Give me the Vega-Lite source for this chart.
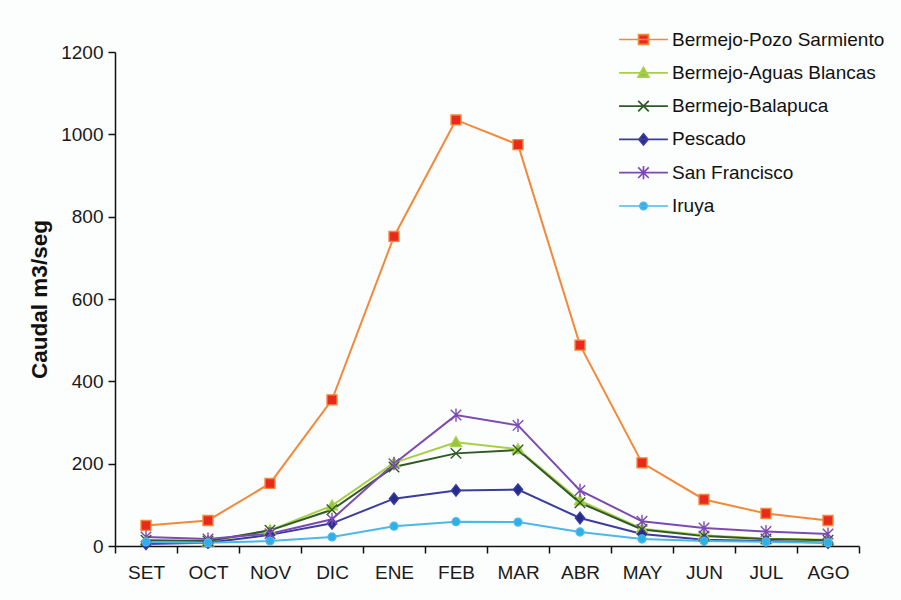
{
  "$schema": "https://vega.github.io/schema/vega-lite/v6.json",
  "width": 744,
  "height": 494,
  "autosize": {"type": "none"},
  "padding": {"left": 115, "top": 52, "right": 42, "bottom": 54},
  "background": "#FCFDFD",
  "config": {
    "view": {"stroke": null},
    "font": "Liberation Sans",
    "axis": {
      "grid": false,
      "domainColor": "#111111",
      "tickColor": "#111111",
      "domainWidth": 1.5,
      "tickWidth": 1.5,
      "labelColor": "#1a1a1a",
      "labelFont": "Liberation Sans",
      "titleFont": "Liberation Sans",
      "titleColor": "#111111"
    },
    "legend": {
      "orient": "none",
      "legendX": 511,
      "legendY": -30,
      "padding": 0,
      "symbolSize": 1089,
      "symbolStrokeWidth": 1.5,
      "labelOffset": 11,
      "labelFontSize": 19,
      "labelFont": "Liberation Sans",
      "labelColor": "#111111",
      "labelLimit": 300,
      "rowPadding": 5.3
    }
  },
  "data": {
    "values": [
      {"mes": "SET", "serie": "Bermejo-Pozo Sarmiento", "caudal": 50},
      {"mes": "OCT", "serie": "Bermejo-Pozo Sarmiento", "caudal": 62},
      {"mes": "NOV", "serie": "Bermejo-Pozo Sarmiento", "caudal": 152},
      {"mes": "DIC", "serie": "Bermejo-Pozo Sarmiento", "caudal": 355},
      {"mes": "ENE", "serie": "Bermejo-Pozo Sarmiento", "caudal": 752},
      {"mes": "FEB", "serie": "Bermejo-Pozo Sarmiento", "caudal": 1035},
      {"mes": "MAR", "serie": "Bermejo-Pozo Sarmiento", "caudal": 975},
      {"mes": "ABR", "serie": "Bermejo-Pozo Sarmiento", "caudal": 488},
      {"mes": "MAY", "serie": "Bermejo-Pozo Sarmiento", "caudal": 202},
      {"mes": "JUN", "serie": "Bermejo-Pozo Sarmiento", "caudal": 113},
      {"mes": "JUL", "serie": "Bermejo-Pozo Sarmiento", "caudal": 79},
      {"mes": "AGO", "serie": "Bermejo-Pozo Sarmiento", "caudal": 62},
      {"mes": "SET", "serie": "Bermejo-Aguas Blancas", "caudal": 12},
      {"mes": "OCT", "serie": "Bermejo-Aguas Blancas", "caudal": 10},
      {"mes": "NOV", "serie": "Bermejo-Aguas Blancas", "caudal": 38},
      {"mes": "DIC", "serie": "Bermejo-Aguas Blancas", "caudal": 98},
      {"mes": "ENE", "serie": "Bermejo-Aguas Blancas", "caudal": 202},
      {"mes": "FEB", "serie": "Bermejo-Aguas Blancas", "caudal": 252},
      {"mes": "MAR", "serie": "Bermejo-Aguas Blancas", "caudal": 235},
      {"mes": "ABR", "serie": "Bermejo-Aguas Blancas", "caudal": 110},
      {"mes": "MAY", "serie": "Bermejo-Aguas Blancas", "caudal": 42},
      {"mes": "JUN", "serie": "Bermejo-Aguas Blancas", "caudal": 26},
      {"mes": "JUL", "serie": "Bermejo-Aguas Blancas", "caudal": 18},
      {"mes": "AGO", "serie": "Bermejo-Aguas Blancas", "caudal": 15},
      {"mes": "SET", "serie": "Bermejo-Balapuca", "caudal": 14},
      {"mes": "OCT", "serie": "Bermejo-Balapuca", "caudal": 12},
      {"mes": "NOV", "serie": "Bermejo-Balapuca", "caudal": 38},
      {"mes": "DIC", "serie": "Bermejo-Balapuca", "caudal": 88},
      {"mes": "ENE", "serie": "Bermejo-Balapuca", "caudal": 192},
      {"mes": "FEB", "serie": "Bermejo-Balapuca", "caudal": 225},
      {"mes": "MAR", "serie": "Bermejo-Balapuca", "caudal": 233},
      {"mes": "ABR", "serie": "Bermejo-Balapuca", "caudal": 105},
      {"mes": "MAY", "serie": "Bermejo-Balapuca", "caudal": 40},
      {"mes": "JUN", "serie": "Bermejo-Balapuca", "caudal": 24},
      {"mes": "JUL", "serie": "Bermejo-Balapuca", "caudal": 17},
      {"mes": "AGO", "serie": "Bermejo-Balapuca", "caudal": 14},
      {"mes": "SET", "serie": "Pescado", "caudal": 5},
      {"mes": "OCT", "serie": "Pescado", "caudal": 8},
      {"mes": "NOV", "serie": "Pescado", "caudal": 27},
      {"mes": "DIC", "serie": "Pescado", "caudal": 55},
      {"mes": "ENE", "serie": "Pescado", "caudal": 115},
      {"mes": "FEB", "serie": "Pescado", "caudal": 135},
      {"mes": "MAR", "serie": "Pescado", "caudal": 137},
      {"mes": "ABR", "serie": "Pescado", "caudal": 68},
      {"mes": "MAY", "serie": "Pescado", "caudal": 29},
      {"mes": "JUN", "serie": "Pescado", "caudal": 15},
      {"mes": "JUL", "serie": "Pescado", "caudal": 12},
      {"mes": "AGO", "serie": "Pescado", "caudal": 8},
      {"mes": "SET", "serie": "San Francisco", "caudal": 22},
      {"mes": "OCT", "serie": "San Francisco", "caudal": 17},
      {"mes": "NOV", "serie": "San Francisco", "caudal": 30},
      {"mes": "DIC", "serie": "San Francisco", "caudal": 65},
      {"mes": "ENE", "serie": "San Francisco", "caudal": 200},
      {"mes": "FEB", "serie": "San Francisco", "caudal": 318},
      {"mes": "MAR", "serie": "San Francisco", "caudal": 293},
      {"mes": "ABR", "serie": "San Francisco", "caudal": 135},
      {"mes": "MAY", "serie": "San Francisco", "caudal": 60},
      {"mes": "JUN", "serie": "San Francisco", "caudal": 44},
      {"mes": "JUL", "serie": "San Francisco", "caudal": 35},
      {"mes": "AGO", "serie": "San Francisco", "caudal": 29},
      {"mes": "SET", "serie": "Iruya", "caudal": 10},
      {"mes": "OCT", "serie": "Iruya", "caudal": 8},
      {"mes": "NOV", "serie": "Iruya", "caudal": 12},
      {"mes": "DIC", "serie": "Iruya", "caudal": 22},
      {"mes": "ENE", "serie": "Iruya", "caudal": 48},
      {"mes": "FEB", "serie": "Iruya", "caudal": 59},
      {"mes": "MAR", "serie": "Iruya", "caudal": 58},
      {"mes": "ABR", "serie": "Iruya", "caudal": 34},
      {"mes": "MAY", "serie": "Iruya", "caudal": 17},
      {"mes": "JUN", "serie": "Iruya", "caudal": 12},
      {"mes": "JUL", "serie": "Iruya", "caudal": 10},
      {"mes": "AGO", "serie": "Iruya", "caudal": 8}
    ]
  },
  "encoding": {
    "x": {
      "field": "mes",
      "type": "ordinal",
      "sort": ["SET", "OCT", "NOV", "DIC", "ENE", "FEB", "MAR", "ABR", "MAY", "JUN", "JUL", "AGO"],
      "scale": {"type": "band", "paddingInner": 0, "paddingOuter": 0},
      "axis": {
        "title": null,
        "labelAngle": 0,
        "tickBand": "extent",
        "tickSize": 7,
        "labelPadding": 10,
        "labelFontSize": 19
      }
    },
    "y": {
      "field": "caudal",
      "type": "quantitative",
      "scale": {"domain": [0, 1200], "nice": false, "zero": true},
      "axis": {
        "title": "Caudal m3/seg",
        "titleFontSize": 22.5,
        "titleFontWeight": "bold",
        "titlePadding": 9,
        "format": "d",
        "values": [0, 200, 400, 600, 800, 1000, 1200],
        "tickSize": 7,
        "labelPadding": 5,
        "labelFontSize": 19
      }
    }
  },
  "layer": [
    {
      "mark": {"type": "line", "strokeWidth": 2},
      "encoding": {
        "stroke": {
          "field": "serie",
          "type": "nominal",
          "scale": {
            "domain": ["Bermejo-Pozo Sarmiento", "Bermejo-Aguas Blancas", "Bermejo-Balapuca", "Pescado", "San Francisco", "Iruya"],
            "range": ["#F4883A", "#A9CF46", "#2F5A27", "#3C3CA0", "#7D4AB2", "#4CB8E6"]
          },
          "legend": {
            "title": null,
            "encode": {
              "symbols": {
                "update": {
                  "shape": {"signal": "datum.value === 'Bermejo-Pozo Sarmiento' ? 'M-1.48,0H1.48M-0.3,-0.3H0.3V0.3H-0.3Z' : datum.value === 'Bermejo-Aguas Blancas' ? 'M-1.48,0H1.48M0,-0.33L0.33,0.26H-0.33Z' : datum.value === 'Bermejo-Balapuca' ? 'M-1.48,0H1.48M-0.32,-0.32L0.32,0.32M-0.32,0.32L0.32,-0.32' : datum.value === 'Pescado' ? 'M-1.48,0H1.48M0,-0.34L0.28,0L0,0.34L-0.28,0Z' : datum.value === 'San Francisco' ? 'M-1.48,0H1.48M-0.32,-0.32L0.32,0.32M-0.32,0.32L0.32,-0.32M0,-0.4V0.4' : 'M-1.48,0H1.48M-0.22,0A0.22,0.22,0,1,0,0.22,0A0.22,0.22,0,1,0,-0.22,0Z'"},
                  "opacity": {"value": 1},
                  "strokeWidth": {"value": 1.7}
                }
              }
            }
          }
        }
      }
    },
    {
      "mark": {"type": "point", "filled": true, "opacity": 1, "size": 110, "strokeWidth": 1.4},
      "encoding": {
        "stroke": {
          "field": "serie",
          "type": "nominal"
        },
        "fill": {
          "field": "serie",
          "type": "nominal",
          "scale": {
            "domain": ["Bermejo-Pozo Sarmiento", "Bermejo-Aguas Blancas", "Bermejo-Balapuca", "Pescado", "San Francisco", "Iruya"],
            "range": ["#E8291C", "#92C83E", "#2F5A27", "#232B8C", "#7D4AB2", "#2BB0E8"]
          }
        },
        "shape": {
          "field": "serie",
          "type": "nominal",
          "scale": {
            "domain": ["Iruya", "Bermejo-Pozo Sarmiento", "Bermejo-Aguas Blancas", "Bermejo-Balapuca", "Pescado", "San Francisco"],
            "range": [
              "M-0.75,0A0.75,0.75,0,1,0,0.75,0A0.75,0.75,0,1,0,-0.75,0Z",
              "M-0.95,-0.95H0.95V0.95H-0.95Z",
              "M0,-1.05L1.05,0.8H-1.05Z",
              "M-1,-1L1,1M-1,1L1,-1",
              "M0,-1.1L0.88,0L0,1.1L-0.88,0Z",
              "M-1,-1L1,1M-1,1L1,-1M0,-1.25V1.25"
            ]
          },
          "legend": null
        }
      }
    }
  ]
}
